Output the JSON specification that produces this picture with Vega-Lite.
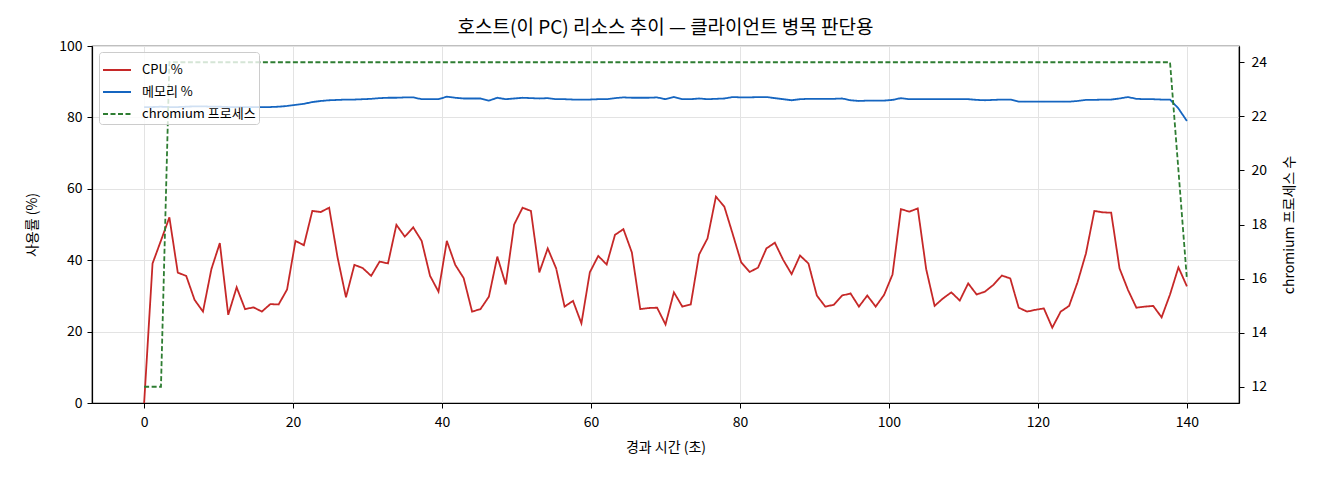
{
  "$schema": "https://vega.github.io/schema/vega-lite/v6.json",
  "autosize": {"type": "none"},
  "width": 1147,
  "height": 357,
  "padding": {"left": 92, "top": 46, "right": 81, "bottom": 77},
  "background": "white",
  "title": {
    "text": "호스트(이 PC) 리소스 추이 — 클라이언트 병목 판단용",
    "font": "Noto Sans CJK KR",
    "fontSize": 19,
    "fontWeight": "normal",
    "color": "black",
    "anchor": "middle",
    "offset": 1
  },
  "data": {
    "values": [
      {"t": 0, "CPU %": 0, "메모리 %": 82.9, "chromium 프로세스": 12},
      {"t": 1.13, "CPU %": 39.1, "메모리 %": 82.9, "chromium 프로세스": 12},
      {"t": 2.26, "CPU %": 45.5, "메모리 %": 83.0, "chromium 프로세스": 12},
      {"t": 3.39, "CPU %": 52.0, "메모리 %": 82.9, "chromium 프로세스": 24},
      {"t": 4.52, "CPU %": 36.5, "메모리 %": 82.9, "chromium 프로세스": 24},
      {"t": 5.65, "CPU %": 35.6, "메모리 %": 83.0, "chromium 프로세스": 24},
      {"t": 6.77, "CPU %": 28.9, "메모리 %": 83.1, "chromium 프로세스": 24},
      {"t": 7.9, "CPU %": 25.6, "메모리 %": 83.1, "chromium 프로세스": 24},
      {"t": 9.03, "CPU %": 37.5, "메모리 %": 83.0, "chromium 프로세스": 24},
      {"t": 10.16, "CPU %": 44.8, "메모리 %": 83.0, "chromium 프로세스": 24},
      {"t": 11.29, "CPU %": 24.7, "메모리 %": 82.9, "chromium 프로세스": 24},
      {"t": 12.42, "CPU %": 32.4, "메모리 %": 82.9, "chromium 프로세스": 24},
      {"t": 13.55, "CPU %": 26.3, "메모리 %": 82.9, "chromium 프로세스": 24},
      {"t": 14.68, "CPU %": 26.8, "메모리 %": 82.9, "chromium 프로세스": 24},
      {"t": 15.81, "CPU %": 25.6, "메모리 %": 82.9, "chromium 프로세스": 24},
      {"t": 16.94, "CPU %": 27.7, "메모리 %": 82.9, "chromium 프로세스": 24},
      {"t": 18.06, "CPU %": 27.6, "메모리 %": 83.0, "chromium 프로세스": 24},
      {"t": 19.19, "CPU %": 31.8, "메모리 %": 83.2, "chromium 프로세스": 24},
      {"t": 20.32, "CPU %": 45.4, "메모리 %": 83.5, "chromium 프로세스": 24},
      {"t": 21.45, "CPU %": 44.2, "메모리 %": 83.8, "chromium 프로세스": 24},
      {"t": 22.58, "CPU %": 53.8, "메모리 %": 84.3, "chromium 프로세스": 24},
      {"t": 23.71, "CPU %": 53.5, "메모리 %": 84.6, "chromium 프로세스": 24},
      {"t": 24.84, "CPU %": 54.7, "메모리 %": 84.8, "chromium 프로세스": 24},
      {"t": 25.97, "CPU %": 40.8, "메모리 %": 84.9, "chromium 프로세스": 24},
      {"t": 27.1, "CPU %": 29.6, "메모리 %": 85.0, "chromium 프로세스": 24},
      {"t": 28.23, "CPU %": 38.7, "메모리 %": 85.0, "chromium 프로세스": 24},
      {"t": 29.35, "CPU %": 37.8, "메모리 %": 85.1, "chromium 프로세스": 24},
      {"t": 30.48, "CPU %": 35.6, "메모리 %": 85.2, "chromium 프로세스": 24},
      {"t": 31.61, "CPU %": 39.6, "메모리 %": 85.4, "chromium 프로세스": 24},
      {"t": 32.74, "CPU %": 39.1, "메모리 %": 85.5, "chromium 프로세스": 24},
      {"t": 33.87, "CPU %": 49.9, "메모리 %": 85.5, "chromium 프로세스": 24},
      {"t": 35.0, "CPU %": 46.6, "메모리 %": 85.6, "chromium 프로세스": 24},
      {"t": 36.13, "CPU %": 49.2, "메모리 %": 85.6, "chromium 프로세스": 24},
      {"t": 37.26, "CPU %": 45.4, "메모리 %": 85.1, "chromium 프로세스": 24},
      {"t": 38.39, "CPU %": 35.6, "메모리 %": 85.1, "chromium 프로세스": 24},
      {"t": 39.52, "CPU %": 31.2, "메모리 %": 85.1, "chromium 프로세스": 24},
      {"t": 40.64, "CPU %": 45.4, "메모리 %": 85.8, "chromium 프로세스": 24},
      {"t": 41.77, "CPU %": 38.7, "메모리 %": 85.5, "chromium 프로세스": 24},
      {"t": 42.9, "CPU %": 35.0, "메모리 %": 85.3, "chromium 프로세스": 24},
      {"t": 44.03, "CPU %": 25.6, "메모리 %": 85.3, "chromium 프로세스": 24},
      {"t": 45.16, "CPU %": 26.3, "메모리 %": 85.3, "chromium 프로세스": 24},
      {"t": 46.29, "CPU %": 29.8, "메모리 %": 84.7, "chromium 프로세스": 24},
      {"t": 47.42, "CPU %": 41.0, "메모리 %": 85.5, "chromium 프로세스": 24},
      {"t": 48.55, "CPU %": 33.2, "메모리 %": 85.1, "chromium 프로세스": 24},
      {"t": 49.68, "CPU %": 50.0, "메모리 %": 85.3, "chromium 프로세스": 24},
      {"t": 50.81, "CPU %": 54.7, "메모리 %": 85.5, "chromium 프로세스": 24},
      {"t": 51.93, "CPU %": 53.8, "메모리 %": 85.4, "chromium 프로세스": 24},
      {"t": 53.06, "CPU %": 36.6, "메모리 %": 85.3, "chromium 프로세스": 24},
      {"t": 54.19, "CPU %": 43.3, "메모리 %": 85.4, "chromium 프로세스": 24},
      {"t": 55.32, "CPU %": 37.7, "메모리 %": 85.1, "chromium 프로세스": 24},
      {"t": 56.45, "CPU %": 27.0, "메모리 %": 85.1, "chromium 프로세스": 24},
      {"t": 57.58, "CPU %": 28.6, "메모리 %": 85.0, "chromium 프로세스": 24},
      {"t": 58.71, "CPU %": 22.3, "메모리 %": 85.0, "chromium 프로세스": 24},
      {"t": 59.84, "CPU %": 36.6, "메모리 %": 85.0, "chromium 프로세스": 24},
      {"t": 60.97, "CPU %": 41.2, "메모리 %": 85.1, "chromium 프로세스": 24},
      {"t": 62.1, "CPU %": 38.8, "메모리 %": 85.1, "chromium 프로세스": 24},
      {"t": 63.22, "CPU %": 47.1, "메모리 %": 85.4, "chromium 프로세스": 24},
      {"t": 64.35, "CPU %": 48.7, "메모리 %": 85.6, "chromium 프로세스": 24},
      {"t": 65.48, "CPU %": 42.2, "메모리 %": 85.5, "chromium 프로세스": 24},
      {"t": 66.61, "CPU %": 26.3, "메모리 %": 85.5, "chromium 프로세스": 24},
      {"t": 67.74, "CPU %": 26.6, "메모리 %": 85.5, "chromium 프로세스": 24},
      {"t": 68.87, "CPU %": 26.7, "메모리 %": 85.6, "chromium 프로세스": 24},
      {"t": 70.0, "CPU %": 22.0, "메모리 %": 85.1, "chromium 프로세스": 24},
      {"t": 71.13, "CPU %": 31.0, "메모리 %": 85.7, "chromium 프로세스": 24},
      {"t": 72.26, "CPU %": 27.0, "메모리 %": 85.1, "chromium 프로세스": 24},
      {"t": 73.39, "CPU %": 27.6, "메모리 %": 85.1, "chromium 프로세스": 24},
      {"t": 74.51, "CPU %": 41.6, "메모리 %": 85.3, "chromium 프로세스": 24},
      {"t": 75.64, "CPU %": 46.1, "메모리 %": 85.1, "chromium 프로세스": 24},
      {"t": 76.77, "CPU %": 57.8, "메모리 %": 85.2, "chromium 프로세스": 24},
      {"t": 77.9, "CPU %": 55.0, "메모리 %": 85.3, "chromium 프로세스": 24},
      {"t": 79.03, "CPU %": 47.3, "메모리 %": 85.7, "chromium 프로세스": 24},
      {"t": 80.16, "CPU %": 39.4, "메모리 %": 85.6, "chromium 프로세스": 24},
      {"t": 81.29, "CPU %": 36.7, "메모리 %": 85.6, "chromium 프로세스": 24},
      {"t": 82.42, "CPU %": 37.9, "메모리 %": 85.7, "chromium 프로세스": 24},
      {"t": 83.55, "CPU %": 43.3, "메모리 %": 85.7, "chromium 프로세스": 24},
      {"t": 84.68, "CPU %": 44.9, "메모리 %": 85.4, "chromium 프로세스": 24},
      {"t": 85.8, "CPU %": 40.1, "메모리 %": 85.1, "chromium 프로세스": 24},
      {"t": 86.93, "CPU %": 36.1, "메모리 %": 84.8, "chromium 프로세스": 24},
      {"t": 88.06, "CPU %": 41.3, "메모리 %": 85.1, "chromium 프로세스": 24},
      {"t": 89.19, "CPU %": 39.1, "메모리 %": 85.2, "chromium 프로세스": 24},
      {"t": 90.32, "CPU %": 30.1, "메모리 %": 85.2, "chromium 프로세스": 24},
      {"t": 91.45, "CPU %": 27.0, "메모리 %": 85.2, "chromium 프로세스": 24},
      {"t": 92.58, "CPU %": 27.5, "메모리 %": 85.2, "chromium 프로세스": 24},
      {"t": 93.71, "CPU %": 30.1, "메모리 %": 85.3, "chromium 프로세스": 24},
      {"t": 94.84, "CPU %": 30.7, "메모리 %": 84.8, "chromium 프로세스": 24},
      {"t": 95.97, "CPU %": 27.0, "메모리 %": 84.6, "chromium 프로세스": 24},
      {"t": 97.09, "CPU %": 30.1, "메모리 %": 84.7, "chromium 프로세스": 24},
      {"t": 98.22, "CPU %": 27.0, "메모리 %": 84.7, "chromium 프로세스": 24},
      {"t": 99.35, "CPU %": 30.3, "메모리 %": 84.7, "chromium 프로세스": 24},
      {"t": 100.48, "CPU %": 36.0, "메모리 %": 84.9, "chromium 프로세스": 24},
      {"t": 101.61, "CPU %": 54.3, "메모리 %": 85.4, "chromium 프로세스": 24},
      {"t": 102.74, "CPU %": 53.6, "메모리 %": 85.1, "chromium 프로세스": 24},
      {"t": 103.87, "CPU %": 54.5, "메모리 %": 85.1, "chromium 프로세스": 24},
      {"t": 105.0, "CPU %": 37.5, "메모리 %": 85.1, "chromium 프로세스": 24},
      {"t": 106.13, "CPU %": 27.2, "메모리 %": 85.1, "chromium 프로세스": 24},
      {"t": 107.26, "CPU %": 29.3, "메모리 %": 85.1, "chromium 프로세스": 24},
      {"t": 108.38, "CPU %": 31.0, "메모리 %": 85.1, "chromium 프로세스": 24},
      {"t": 109.51, "CPU %": 28.7, "메모리 %": 85.1, "chromium 프로세스": 24},
      {"t": 110.64, "CPU %": 33.5, "메모리 %": 85.1, "chromium 프로세스": 24},
      {"t": 111.77, "CPU %": 30.4, "메모리 %": 84.9, "chromium 프로세스": 24},
      {"t": 112.9, "CPU %": 31.2, "메모리 %": 84.8, "chromium 프로세스": 24},
      {"t": 114.03, "CPU %": 33.1, "메모리 %": 84.9, "chromium 프로세스": 24},
      {"t": 115.16, "CPU %": 35.7, "메모리 %": 85.0, "chromium 프로세스": 24},
      {"t": 116.29, "CPU %": 34.9, "메모리 %": 85.0, "chromium 프로세스": 24},
      {"t": 117.42, "CPU %": 26.7, "메모리 %": 84.4, "chromium 프로세스": 24},
      {"t": 118.55, "CPU %": 25.6, "메모리 %": 84.4, "chromium 프로세스": 24},
      {"t": 119.67, "CPU %": 26.1, "메모리 %": 84.4, "chromium 프로세스": 24},
      {"t": 120.8, "CPU %": 26.5, "메모리 %": 84.4, "chromium 프로세스": 24},
      {"t": 121.93, "CPU %": 21.1, "메모리 %": 84.4, "chromium 프로세스": 24},
      {"t": 123.06, "CPU %": 25.6, "메모리 %": 84.4, "chromium 프로세스": 24},
      {"t": 124.19, "CPU %": 27.2, "메모리 %": 84.4, "chromium 프로세스": 24},
      {"t": 125.32, "CPU %": 33.8, "메모리 %": 84.6, "chromium 프로세스": 24},
      {"t": 126.45, "CPU %": 41.9, "메모리 %": 84.9, "chromium 프로세스": 24},
      {"t": 127.58, "CPU %": 53.8, "메모리 %": 84.9, "chromium 프로세스": 24},
      {"t": 128.71, "CPU %": 53.4, "메모리 %": 85.0, "chromium 프로세스": 24},
      {"t": 129.84, "CPU %": 53.3, "메모리 %": 85.0, "chromium 프로세스": 24},
      {"t": 130.96, "CPU %": 37.7, "메모리 %": 85.3, "chromium 프로세스": 24},
      {"t": 132.09, "CPU %": 31.7, "메모리 %": 85.7, "chromium 프로세스": 24},
      {"t": 133.22, "CPU %": 26.7, "메모리 %": 85.2, "chromium 프로세스": 24},
      {"t": 134.35, "CPU %": 27.0, "메모리 %": 85.1, "chromium 프로세스": 24},
      {"t": 135.48, "CPU %": 27.2, "메모리 %": 85.1, "chromium 프로세스": 24},
      {"t": 136.61, "CPU %": 24.0, "메모리 %": 85.0, "chromium 프로세스": 24},
      {"t": 137.74, "CPU %": 30.4, "메모리 %": 85.0, "chromium 프로세스": 24},
      {"t": 138.87, "CPU %": 38.0, "메모리 %": 82.5, "chromium 프로세스": 20},
      {"t": 140.0, "CPU %": 32.7, "메모리 %": 79.0, "chromium 프로세스": 16}
    ]
  },
  "encoding": {
    "x": {
      "field": "t",
      "type": "quantitative",
      "title": "경과 시간 (초)",
      "scale": {"domain": [-7, 147], "nice": false, "zero": false},
      "axis": {"values": [0, 20, 40, 60, 80, 100, 120, 140], "grid": true, "labelPadding": 7, "titlePadding": 11}
    }
  },
  "layer": [
    {
      "transform": [{"fold": ["CPU %", "메모리 %"], "as": ["series", "v"]}],
      "mark": {"type": "line", "strokeWidth": 1.8, "clip": true},
      "encoding": {
        "y": {
          "field": "v",
          "type": "quantitative",
          "title": "사용률 (%)",
          "scale": {"domain": [0, 100], "nice": false},
          "axis": {"values": [0, 20, 40, 60, 80, 100], "grid": true, "orient": "left", "labelPadding": 5, "titlePadding": 19}
        },
        "color": {
          "field": "series",
          "type": "nominal",
          "scale": {"domain": ["CPU %", "메모리 %", "chromium 프로세스"], "range": ["#c62828", "#1565c0", "#2e7d32"]},
          "title": null
        },
        "strokeDash": {
          "field": "series",
          "type": "nominal",
          "scale": {"domain": ["CPU %", "메모리 %", "chromium 프로세스"], "range": [[1, 0], [1, 0], [5, 2.5]]},
          "title": null
        }
      }
    },
    {
      "transform": [{"fold": ["chromium 프로세스"], "as": ["series", "v"]}],
      "mark": {"type": "line", "strokeWidth": 1.8, "clip": true},
      "encoding": {
        "y": {
          "field": "v",
          "type": "quantitative",
          "title": "chromium 프로세스 수",
          "scale": {"domain": [11.4, 24.6], "nice": false, "zero": false},
          "axis": {"values": [12, 14, 16, 18, 20, 22, 24], "grid": false, "orient": "right", "labelPadding": 7, "titleAngle": 270, "titleBaseline": "top", "titlePadding": 16}
        },
        "color": {
          "field": "series",
          "type": "nominal",
          "scale": {"domain": ["CPU %", "메모리 %", "chromium 프로세스"], "range": ["#c62828", "#1565c0", "#2e7d32"]},
          "title": null
        },
        "strokeDash": {
          "field": "series",
          "type": "nominal",
          "scale": {"domain": ["CPU %", "메모리 %", "chromium 프로세스"], "range": [[1, 0], [1, 0], [5, 2.5]]},
          "title": null
        }
      }
    }
  ],
  "resolve": {"scale": {"y": "independent"}},
  "config": {
    "font": "Noto Sans CJK KR",
    "view": {"stroke": "black", "strokeWidth": 1.2},
    "axis": {
      "labelFont": "Noto Sans CJK KR",
      "titleFont": "Noto Sans CJK KR",
      "labelFontSize": 14,
      "titleFontSize": 14,
      "titleFontWeight": "normal",
      "labelColor": "black",
      "titleColor": "black",
      "domainColor": "black",
      "domainWidth": 1.2,
      "tickColor": "black",
      "tickSize": 5,
      "tickWidth": 1,
      "gridColor": "#e3e3e3",
      "gridWidth": 1
    },
    "legend": {
      "orient": "none",
      "legendX": 7,
      "legendY": 6,
      "symbolType": "stroke",
      "symbolSize": 784,
      "symbolStrokeWidth": 2,
      "labelFont": "Noto Sans CJK KR",
      "labelFontSize": 13,
      "labelOffset": 10,
      "labelColor": "black",
      "fillColor": "rgba(255,255,255,0.8)",
      "strokeColor": "#cccccc",
      "cornerRadius": 3,
      "padding": 3,
      "rowPadding": 0
    }
  }
}
